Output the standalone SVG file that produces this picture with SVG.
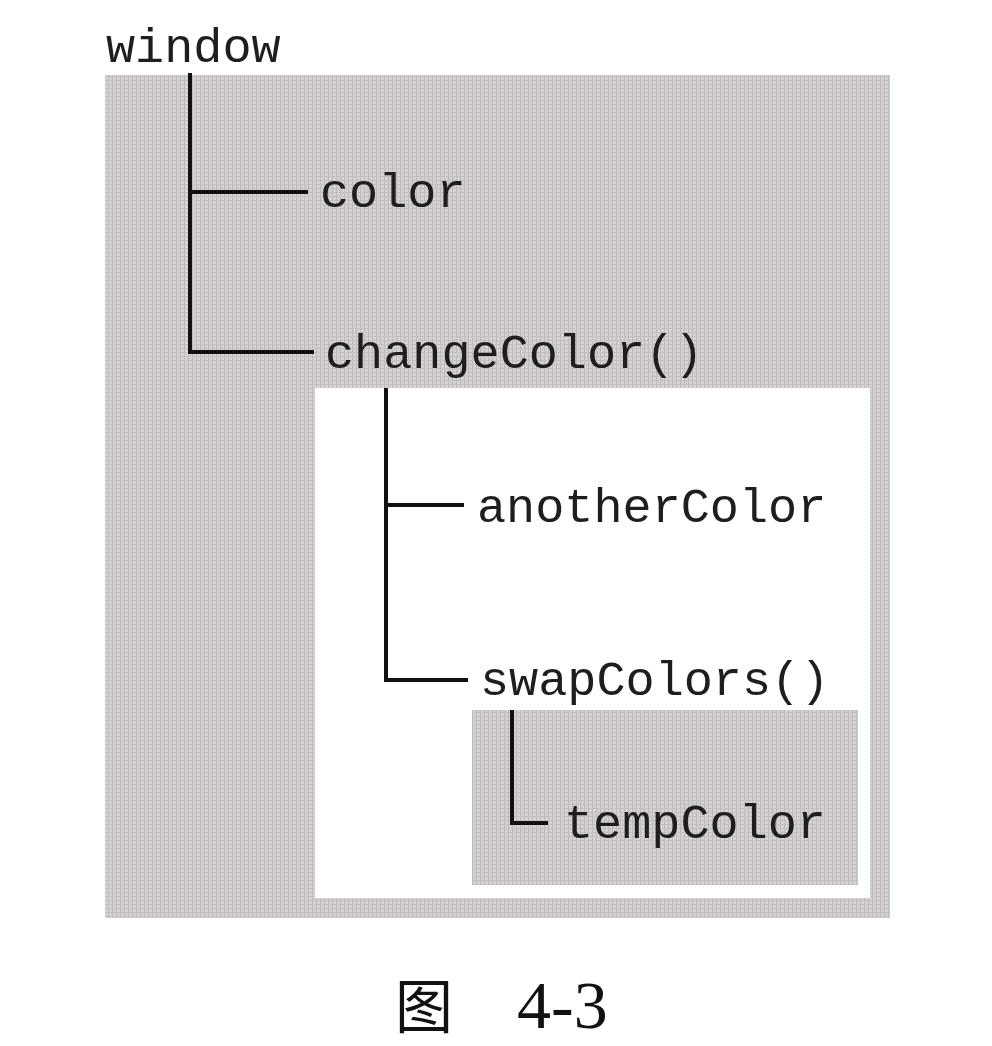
<svg xmlns="http://www.w3.org/2000/svg" width="992" height="1046" viewBox="0 0 992 1046">
<defs>
<pattern id="tex" width="4" height="4" patternUnits="userSpaceOnUse">
<rect width="4" height="4" fill="#d6d1d1"/>
<rect x="0" y="0" width="1" height="4" fill="#bfbaba"/>
<rect x="0" y="0" width="4" height="1" fill="#c5c0c0"/>
</pattern>
</defs>
<style>
.lbl{font-family:"Liberation Mono","Courier New",monospace;font-size:48.5px;fill:#1e1e1e}
.ln{stroke:#111;stroke-width:4;fill:none;stroke-linecap:square}
.cap{font-family:"Liberation Serif","Noto Sans CJK SC",serif;font-size:64px;fill:#111}
</style>
<rect width="992" height="1046" fill="#ffffff"/>
<g id="scope-window"><rect x="105" y="75" width="785" height="843" fill="url(#tex)"/></g>
<g id="scope-changeColor"><rect x="315" y="388" width="555" height="510" fill="#ffffff"/></g>
<g id="scope-swapColors"><rect x="472" y="710" width="386" height="175" fill="url(#tex)"/></g>
<g id="connectors">
<path class="ln" d="M190 75 V352 H312 M190 192 H306"/>
<path class="ln" d="M386 390 V680 H466 M386 505 H462"/>
<path class="ln" d="M512 712 V823 H546"/>
</g>
<g id="node-window"><text class="lbl" x="106" y="62">window</text></g>
<g id="node-color"><text class="lbl" x="320" y="207">color</text></g>
<g id="node-changeColor"><text class="lbl" x="325" y="368">changeColor()</text></g>
<g id="node-anotherColor"><text class="lbl" x="477" y="522">anotherColor</text></g>
<g id="node-swapColors"><text class="lbl" x="480" y="695">swapColors()</text></g>
<g id="node-tempColor"><text class="lbl" x="564" y="838">tempColor</text></g>
<g id="caption">
<text class="cap" x="395" y="1028" style="font-family:'Noto Sans CJK SC',sans-serif;font-size:58px">图</text>
<text class="cap" x="517" y="1028" style="font-size:68px">4-3</text>
</g>
</svg>
